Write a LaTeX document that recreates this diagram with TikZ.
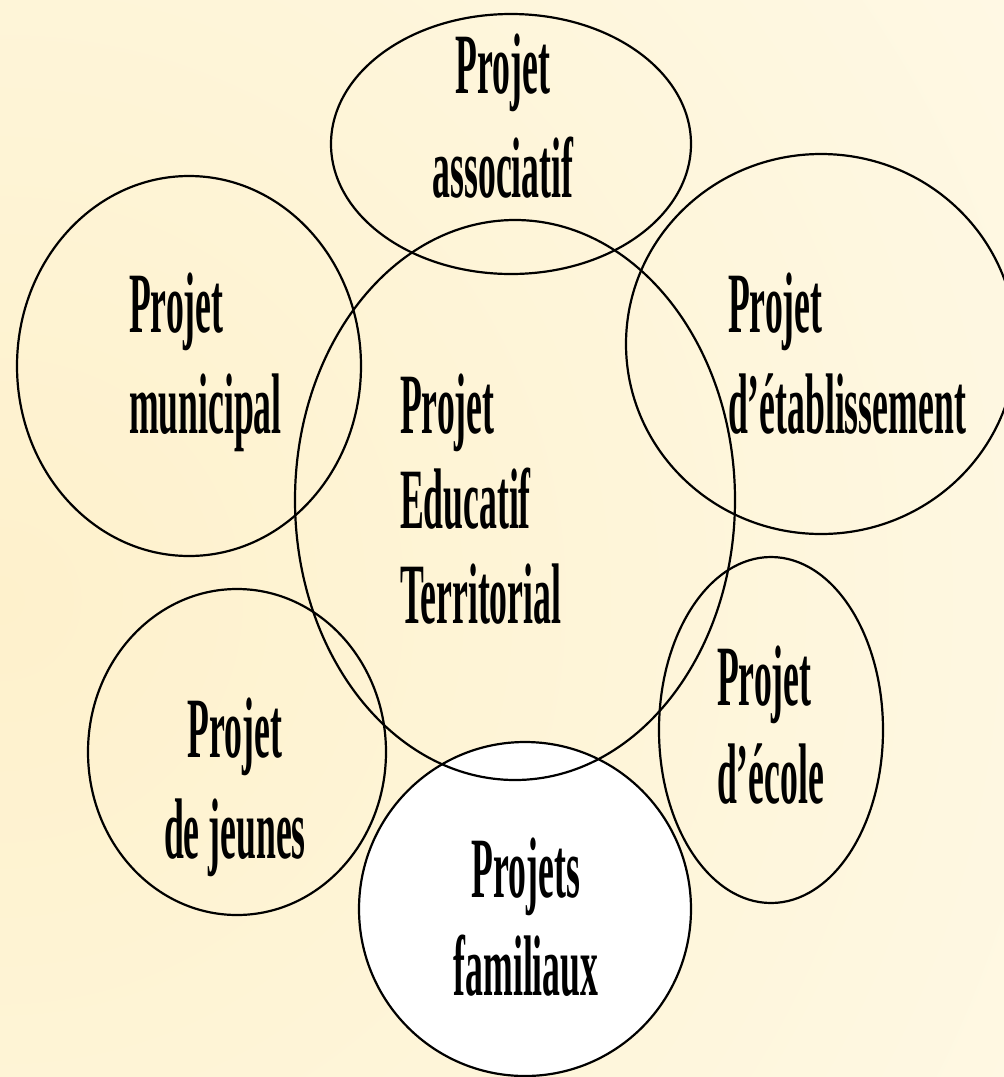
\documentclass[tikz,border=0pt]{standalone}
\usepackage{fontspec}
\setmainfont{Liberation Serif}
\usepackage{graphicx}

\definecolor{glowin}{RGB}{254,241,204}
\definecolor{glowout}{RGB}{255,254,247}

% condensed bold label, lines in a top-aligned tabular so the node base is the first baseline
\newcommand\plabel[2]{\scalebox{0.415}[1]{\begin{tabular}[t]{@{}#1@{}}#2\end{tabular}}}

\tikzset{
  ring/.style={draw=black, line width=2.2pt},
  lab/.style={inner sep=0pt, outer sep=0pt, font=\fontsize{86}{95}\selectfont\bfseries}
}

\begin{document}
\begin{tikzpicture}[x=1pt,y=1pt]
\useasboundingbox (0,0) rectangle (1004,-1077);

% soft yellow glow
\begin{scope}
  \clip (0,0) rectangle (1004,-1077);
  \shade[inner color=glowin, outer color=glowout] (0,-600) circle (2100pt);
\end{scope}

% the circles
\begin{scope}
  \clip (0,0) rectangle (1004,-1077);
  \fill[white] (525,-909) ellipse [x radius=166pt, y radius=167pt];
  \draw[ring] (511,-144) ellipse [x radius=180pt, y radius=130pt];  % associatif
  \draw[ring] (189,-366) ellipse [x radius=172pt, y radius=190pt];  % municipal
  \draw[ring] (515,-500) ellipse [x radius=220pt, y radius=280pt];  % central
  \draw[ring] (821,-344) ellipse [x radius=195pt, y radius=190pt];  % etablissement
  \draw[ring] (771,-730) ellipse [x radius=112pt, y radius=173pt];  % ecole
  \draw[ring] (237,-752) ellipse [x radius=149pt, y radius=163pt];  % jeunes
  \draw[ring] (525,-909) ellipse [x radius=166pt, y radius=167pt];  % familiaux
\end{scope}

% labels
\node[lab, anchor=base] (tassoc) at (503,-93) {\plabel{c}{Projet\\[9pt]associatif}};
\node[lab, anchor=base west] (tmun) at (129,-332) {\plabel{l}{Projet\\[6pt]municipal}};
\node[lab, anchor=base west] (tpet) at (400,-433) {\plabel{l}{Projet\\Educatif\\Territorial}};
\node[lab, anchor=base west] (tetab) at (728,-332) {\plabel{l}{Projet\\[6pt]d’établissement}};
\node[lab, anchor=base west] (tecole) at (717,-705) {\plabel{l}{Projet\\[3pt]d’école}};
\node[lab, anchor=base] (tjeunes) at (235,-757) {\plabel{c}{Projet\\[6pt]de jeunes}};
\node[lab, anchor=base] (tfam) at (526,-897) {\plabel{c}{Projets\\[3pt]familiaux}};
\end{tikzpicture}
\end{document}
